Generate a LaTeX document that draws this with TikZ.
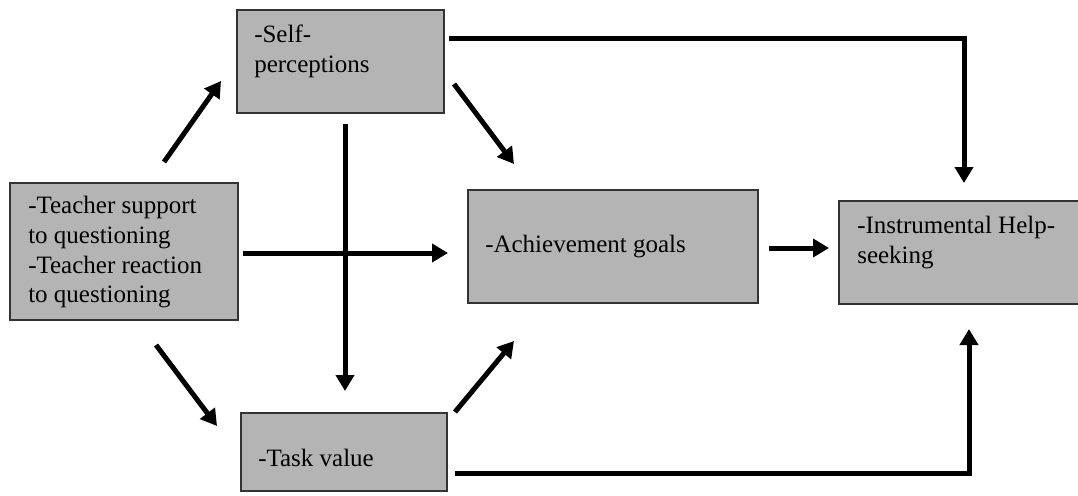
\documentclass[tikz,border=0pt]{standalone}
\usepackage{fontspec}
\setmainfont{Liberation Serif}
\usetikzlibrary{arrows.meta}
\definecolor{boxgray}{RGB}{180,180,180}
\tikzset{
  box/.style={draw=black!80, line width=1.5pt, fill=boxgray, anchor=north west, inner sep=0pt},
  txt/.style={anchor=north west, inner sep=0pt, align=left, font=\fontsize{18.75}{22.3}\selectfont},
  link/.style={line width=3.75pt, -{Triangle[length=12pt,width=13.5pt]}}
}
\begin{document}
\begin{tikzpicture}[x=0.75pt,y=-0.75pt]
      \useasboundingbox (0,0) rectangle (1078,496);
      % boxes
      \node[box, minimum width=155.25pt, minimum height=77.25pt] (self) at (236,9) {};
      \node[box, minimum width=171pt, minimum height=102.75pt] (teacher) at (9,182) {};
      \node[box, minimum width=217.5pt, minimum height=84.75pt] (ach) at (467,189) {};
      \node[box, minimum width=189pt, minimum height=77.25pt] (help) at (838,200) {};
      \node[box, minimum width=154.5pt, minimum height=58.5pt] (task) at (240,412) {};
      % texts
      \node[txt] (self-t) at (254,25) {-Self-\\perceptions};
      \node[txt] (teacher-t) at (28,196) {-Teacher support\\to questioning\\-Teacher reaction\\to questioning};
      \node[txt] (ach-t) at (485,235) {-Achievement goals};
      \node[txt] (help-t) at (857,216) {-Instrumental Help-\\seeking};
      \node[txt] (task-t) at (258,449) {-Task value};
      % paths
      \draw[link] ([shift={(-75,-20)}]teacher.north east) -- ([shift={(-15,-33)}]self.south west);
      \draw[link] ([shift={(9,-30)}]self.south east) -- ([shift={(47,-25)}]ach.north west);
      \draw[link] ([shift={(4.5,10)}]self.south) -- ([shift={(1,-21)}]task.north);
      \draw[link] ([shift={(4,1.5)}]teacher.east) -- ([shift={(-19,6.5)}]ach.west);
      \draw[link] ([shift={(32,24)}]teacher.south) -- ([shift={(-23,14)}]task.north west);
      \draw[link] ([shift={(7,0)}]task.north east) -- ([shift={(47,37)}]ach.south west);
      \draw[link] ([shift={(10,1.5)}]ach.east) -- ([shift={(-9,-4.5)}]help.west);
      \draw[link] ([shift={(4,29)}]self.north east) -| ([shift={(-1,-17)}]help.north);
      \draw[link] ([shift={(7,21.5)}]task.east) -| ([shift={(4,24)}]help.south);
\end{tikzpicture}
\end{document}
